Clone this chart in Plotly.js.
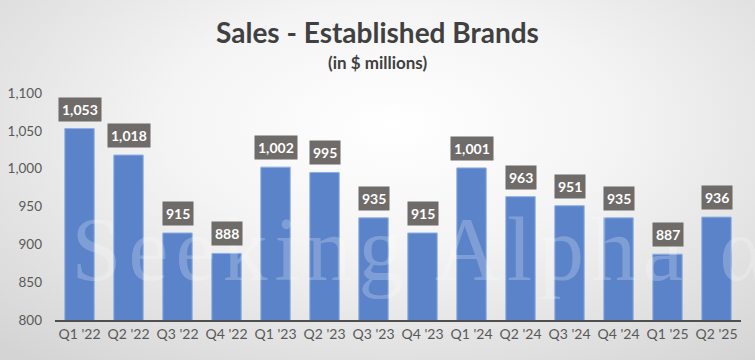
<!DOCTYPE html>
<html><head><meta charset="utf-8">
<script src="https://cdn.plot.ly/plotly-3.0.1.min.js"></script>
<style>
html,body{margin:0;padding:0;}
body{width:755px;height:360px;background:radial-gradient(ellipse 75% 85% at 52% 35%, #ffffff 0%, #f4f4f4 40%, #d4d4d4 100%);}
#chart{width:755px;height:360px;}
</style></head>
<body><div id="chart"></div>
<script>
const quarters = ["Q1 '22","Q2 '22","Q3 '22","Q4 '22","Q1 '23","Q2 '23","Q3 '23","Q4 '23","Q1 '24","Q2 '24","Q3 '24","Q4 '24","Q1 '25","Q2 '25"];
const sales = [1053,1018,915,888,1002,995,935,915,1001,963,951,935,887,936];
const yTicks = [800,850,900,950,1000,1050,1100];
const yTickLabels = ["800","850","900","950","1,000","1,050","1,100"];

const fmt = v => v.toLocaleString('en-US');

const labelAnnotations = quarters.map((q,i)=>({
  x:q, y:sales[i], xref:'x', yref:'y', text:'<b>'+fmt(sales[i])+'</b>',
  showarrow:false, yanchor:'bottom', yshift:7,
  bgcolor:'#6f6b69', borderpad:3,
  font:{family:'Lato, Calibri, sans-serif', size:14, color:'#ffffff'}
}));

const watermark = {
  xref:'paper', yref:'paper', x:0.535, xanchor:'center', y:0.31, yanchor:'middle', text:'Seeking Alpha α',
  showarrow:false, font:{family:'Liberation Serif, DejaVu Serif, serif', size:90, color:'rgba(255,255,255,0.22)'}
};

const data = [{
  type:'bar', x:quarters, y:sales,
  marker:{color:'#5b83c9', line:{color:'#8fb0e3', width:1}},
  hoverinfo:'skip'
}];

const layout = {
  width:755, height:360,
  paper_bgcolor:'rgba(0,0,0,0)', plot_bgcolor:'rgba(0,0,0,0)',
  margin:{l:55, r:14, t:93, b:40},
  bargap:0.4,
  showlegend:false,
  title:{text:'<b>Sales - Established Brands</b>', x:0.5, xanchor:'center', y:1-33/360, yanchor:'middle',
    font:{family:'Lato, Calibri, sans-serif', size:28, color:'#404040'}},
  xaxis:{type:'category', showgrid:false, showline:true, linecolor:'#4f4f4f', linewidth:2,
    ticks:'', tickfont:{family:'Lato, Calibri, sans-serif', size:14, color:'#595959'}, fixedrange:true},
  yaxis:{range:[800,1100], tickvals:yTicks, ticktext:yTickLabels, showgrid:false, zeroline:false,
    showline:false, ticks:'', ticklen:0, ticklabelstandoff:12,
    tickfont:{family:'Lato, Calibri, sans-serif', size:13.5, color:'#595959'}, fixedrange:true},
  annotations:[
    {xref:'paper', yref:'paper', x:(377-55)/686, y:(320-62)/227, yanchor:'middle', text:'<b>(in $ millions)</b>', showarrow:false,
     font:{family:'Lato, Calibri, sans-serif', size:17, color:'#404040'}},
    watermark
  ].concat(labelAnnotations)
};
Plotly.newPlot('chart', data, layout, {displayModeBar:false, staticPlot:true}).then(()=>{
  document.querySelectorAll('.annotation-text').forEach(t=>{
    if (t.textContent.indexOf('Seeking')===0) t.style.letterSpacing='7px';
  });
});
</script></body></html>
